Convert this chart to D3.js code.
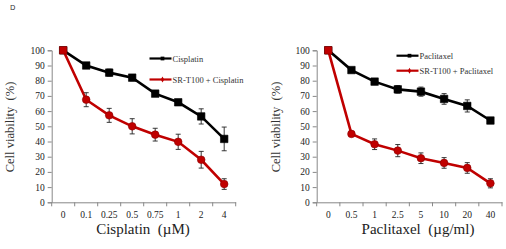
<!DOCTYPE html>
<html lang="en">
<head>
<meta charset="utf-8"/>
<script src="https://d3js.org/d3.v7.min.js"></script>
<style>
  body { margin: 0; background: #fff; }
  text { font-family: "Liberation Serif", "DejaVu Serif", serif; white-space: pre; }
</style>
</head>
<body>
<svg id="chart" width="506" height="249"></svg>
<script>
  // left panel: cisplatin
  const cisDoses = ["0", "0.1", "0.25", "0.5", "0.75", "1", "2", "4"];
  const cisAlone = [100, 90, 85.3, 82, 71.5, 65.8, 56.5, 41.7];
  const cisAloneErr = [0.5, 1.5, 2.3, 2, 1.5, 1.5, 5, 7.8];
  const cisCombo = [100, 67.5, 57.2, 50, 44.5, 39.8, 28, 12];
  const cisComboErr = [0.5, 4.6, 4.6, 5, 4.2, 5, 5.5, 3.5];

  // right panel: paclitaxel
  const pacDoses = ["0", "0.5", "1", "2.5", "5", "10", "20", "40"];
  const pacAlone = [100, 87, 79.4, 74.3, 72.8, 68, 63.4, 53.8];
  const pacAloneErr = [0.5, 1.5, 2, 2.5, 3, 3.5, 4, 2];
  const pacCombo = [100, 45, 38.2, 34, 29, 25.9, 22.6, 12.5];
  const pacComboErr = [0.5, 1, 3.5, 4, 3.5, 3.5, 3.5, 3];

  const yTicks = [0, 10, 20, 30, 40, 50, 60, 70, 80, 90, 100];

  const svg = d3.select("#chart");
  const red = "#c00000";

  svg.append("text")
    .attr("x", 10).attr("y", 10)
    .style("font-family", "DejaVu Sans, sans-serif")
    .style("font-size", "7px")
    .attr("fill", "#333")
    .text("D");

  const panel = (opts) => {
    const g = svg.append("g");
    const x = d3.scaleBand()
      .domain(opts.doses)
      .range([opts.x0, opts.x1]);
    const y = d3.scaleLinear()
      .domain([0, 100])
      .range([202.3, 50.3]);

    // y axis
    const ya = g.append("g")
      .attr("transform", "translate(" + opts.x0 + ",0)")
      .call(d3.axisLeft(y).tickValues(yTicks).tickSize(4).tickPadding(3));
    ya.select(".domain").attr("stroke", "#888");
    ya.selectAll(".tick line").attr("stroke", "#888");
    ya.selectAll(".tick text")
      .style("font-size", "9.5px")
      .attr("fill", "#222");

    // x axis, ticks between the categories
    const xa = g.append("g")
      .attr("transform", "translate(0," + y(0) + ")")
      .call(d3.axisBottom(x).tickSize(0).tickPadding(9));
    xa.select(".domain").attr("stroke", "#888");
    xa.selectAll(".tick text")
      .style("font-size", "9.5px")
      .attr("fill", "#222");
    const bounds = opts.doses.map((d) => x(d)).concat([opts.x1]);
    g.selectAll(".xtick")
      .data(bounds)
      .enter()
      .append("line")
      .attr("x1", (d) => d).attr("x2", (d) => d)
      .attr("y1", y(0)).attr("y2", y(0) + 4)
      .attr("stroke", "#888");

    // axis titles
    g.append("text")
      .attr("transform", "translate(" + opts.ylabX + ",127) rotate(-90)")
      .attr("text-anchor", "middle")
      .style("font-size", "12.5px")
      .attr("fill", "#333")
      .text("Cell viability  (%)");
    g.append("text")
      .attr("x", opts.xlabX).attr("y", 234)
      .attr("text-anchor", "middle")
      .style("font-size", "15px")
      .attr("fill", "#222")
      .text(opts.xlabel);

    const cx = (d) => x(d) + x.bandwidth() / 2;
    const line = d3.line()
      .x((d) => cx(d.dose))
      .y((d) => y(d.v));

    const series = [
      {color: "#000", vals: opts.alone, errs: opts.aloneErr, shape: "square"},
      {color: red, vals: opts.combo, errs: opts.comboErr, shape: "circle"}
    ];

    series.forEach((s) => {
      const pts = opts.doses.map((d, i) => ({dose: d, v: s.vals[i], e: s.errs[i], i: i}));
      g.append("path")
        .datum(pts)
        .attr("fill", "none")
        .attr("stroke", s.color)
        .attr("stroke-width", 2.6)
        .attr("d", line);

      // error bars
      const eb = g.append("g").attr("stroke", "#222").attr("stroke-width", 0.9);
      pts.forEach((p) => {
        if (p.e < 1) return;
        eb.append("line")
          .attr("x1", cx(p.dose)).attr("x2", cx(p.dose))
          .attr("y1", y(p.v + p.e)).attr("y2", y(p.v - p.e));
        [p.v + p.e, p.v - p.e].forEach((v) => {
          eb.append("line")
            .attr("x1", cx(p.dose) - 2.5).attr("x2", cx(p.dose) + 2.5)
            .attr("y1", y(v)).attr("y2", y(v));
        });
      });

      g.selectAll(null)
        .data(pts)
        .enter()
        .append("path")
        .attr("transform", (d) => "translate(" + cx(d.dose) + "," + y(d.v) + ")")
        .attr("d", (d) => (s.shape === "square" || d.i === 0)
          ? d3.symbol(d3.symbolSquare, 56)()
          : d3.symbol(d3.symbolCircle, 46)())
        .attr("fill", s.color)
        .attr("stroke", s.shape === "square" ? "#000" : "#8a0000")
        .attr("stroke-width", 0.6);
    });

    // legend
    const leg = g.append("g");
    opts.legend.forEach((txt, i) => {
      const ly = opts.legY[i];
      const col = i === 0 ? "#000" : red;
      leg.append("line")
        .attr("x1", opts.legX).attr("x2", opts.legX + 22)
        .attr("y1", ly).attr("y2", ly)
        .attr("stroke", col).attr("stroke-width", 2.2);
      leg.append("path")
        .attr("transform", "translate(" + (opts.legX + 13) + "," + ly + ")")
        .attr("d", i === 0 ? d3.symbol(d3.symbolSquare, 14)() : d3.symbol(d3.symbolDiamond, 10)())
        .attr("fill", col);
      leg.append("text")
        .attr("x", opts.legX + 23).attr("y", ly + 3)
        .style("font-size", "8.5px")
        .attr("fill", "#333")
        .text(txt);
    });
  };

  panel({
    doses: cisDoses, alone: cisAlone, aloneErr: cisAloneErr,
    combo: cisCombo, comboErr: cisComboErr,
    x0: 51.7, x1: 235.7, ylabX: 14, xlabX: 143,
    xlabel: "Cisplatin  (\u00b5M)",
    legend: ["Cisplatin", "SR-T100 + Cisplatin"],
    legX: 149.5, legY: [58.5, 79.5]
  });

  panel({
    doses: pacDoses, alone: pacAlone, aloneErr: pacAloneErr,
    combo: pacCombo, comboErr: pacComboErr,
    x0: 316.7, x1: 502, ylabX: 280, xlabX: 418,
    xlabel: "Paclitaxel  (\u00b5g/ml)",
    legend: ["Paclitaxel", "SR-T100 + Paclitaxel"],
    legX: 396.5, legY: [55.7, 70.7]
  });
</script>
</body>
</html>
